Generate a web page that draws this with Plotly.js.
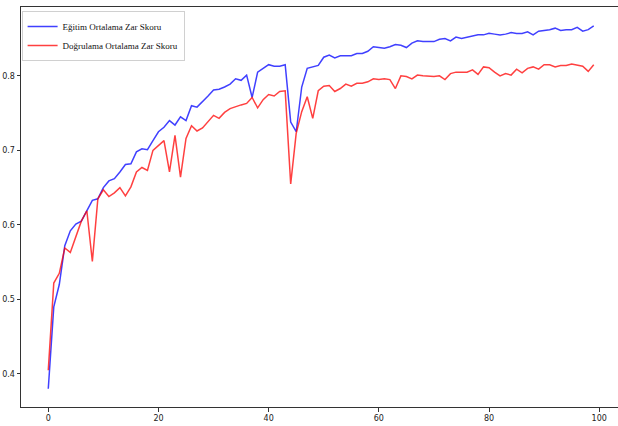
<!DOCTYPE html>
<html>
<head>
<meta charset="utf-8">
<script src="https://cdn.plot.ly/plotly-3.0.1.min.js"></script>
<style>html,body{margin:0;padding:0;overflow:hidden;background:#fff;}</style>
</head>
<body>
<div id="chart" style="width:623px;height:426px;"></div>
<script>
const seriesNames = ["Eğitim Ortalama Zar Skoru", "Doğrulama Ortalama Zar Skoru"];
const trainDice = [0.380,0.490,0.520,0.572,0.592,0.601,0.605,0.619,0.633,0.635,
0.650,0.659,0.662,0.671,0.681,0.682,0.698,0.702,0.701,0.713,
0.725,0.731,0.740,0.734,0.745,0.740,0.760,0.758,0.765,0.773,
0.781,0.782,0.785,0.789,0.796,0.794,0.801,0.771,0.805,0.810,
0.815,0.813,0.813,0.815,0.738,0.725,0.785,0.810,0.812,0.814,
0.825,0.828,0.824,0.827,0.827,0.827,0.830,0.830,0.833,0.839,
0.838,0.837,0.839,0.842,0.841,0.838,0.844,0.847,0.846,0.846,
0.846,0.849,0.850,0.847,0.852,0.850,0.852,0.853,0.855,0.855,
0.857,0.856,0.855,0.856,0.858,0.857,0.857,0.859,0.855,0.860,
0.861,0.862,0.864,0.861,0.862,0.862,0.865,0.860,0.862,0.867];
const valDice = [0.405,0.522,0.535,0.569,0.563,0.583,0.605,0.619,0.551,0.635,
0.647,0.638,0.643,0.650,0.639,0.651,0.671,0.677,0.673,0.700,
0.706,0.713,0.671,0.720,0.664,0.716,0.733,0.726,0.730,0.738,
0.747,0.743,0.751,0.756,0.759,0.761,0.763,0.771,0.757,0.768,
0.775,0.773,0.779,0.780,0.655,0.723,0.752,0.772,0.743,0.780,
0.786,0.787,0.779,0.783,0.789,0.786,0.790,0.790,0.792,0.796,
0.795,0.796,0.795,0.783,0.800,0.799,0.796,0.801,0.800,0.799,
0.799,0.800,0.795,0.803,0.805,0.805,0.805,0.808,0.802,0.812,
0.811,0.805,0.800,0.803,0.801,0.809,0.804,0.810,0.812,0.809,
0.815,0.815,0.812,0.814,0.814,0.816,0.814,0.813,0.806,0.815];
const epochs = trainDice.map((_, i) => i);
const xTicks = [0, 20, 40, 60, 80, 100];
const yTicks = [0.4, 0.5, 0.6, 0.7, 0.8];

const traces = [
  {x: epochs, y: trainDice, name: seriesNames[0], type: "scatter", mode: "lines",
   line: {color: "rgba(0,0,255,0.75)", width: 1.5}},
  {x: epochs, y: valDice, name: seriesNames[1], type: "scatter", mode: "lines",
   line: {color: "rgba(255,0,0,0.75)", width: 1.5}}
];
const axisCommon = {
  showgrid: false, zeroline: false, showline: true, mirror: true,
  linecolor: "#333", linewidth: 1, ticks: "outside", ticklen: 3.5,
  tickcolor: "#333", tickfont: {family: "DejaVu Sans", size: 8, color: "#222"}
};
const layout = {
  width: 623, height: 426,
  margin: {l: 21, r: 2, t: 7, b: 19},
  paper_bgcolor: "#fff", plot_bgcolor: "#fff",
  showlegend: true,
  font: {family: "Liberation Serif"},
  legend: {x: 0.001, y: 0.99, xanchor: "left", yanchor: "top",
    bgcolor: "rgba(255,255,255,0.9)", bordercolor: "#d0d0d0", borderwidth: 1,
    font: {family: "Liberation Serif", size: 9, color: "#111"},
    itemwidth: 30, tracegroupgap: 0, traceorder: "normal"},
  xaxis: Object.assign({}, axisCommon, {range: [-4.95, 103.95], tickvals: xTicks, ticktext: xTicks.map(String)}),
  yaxis: Object.assign({}, axisCommon, {range: [0.3556, 0.8924], tickvals: yTicks, ticktext: yTicks.map(v => v.toFixed(1))})
};
Plotly.newPlot("chart", traces, layout, {displayModeBar: false, staticPlot: true});
</script>
</body>
</html>
